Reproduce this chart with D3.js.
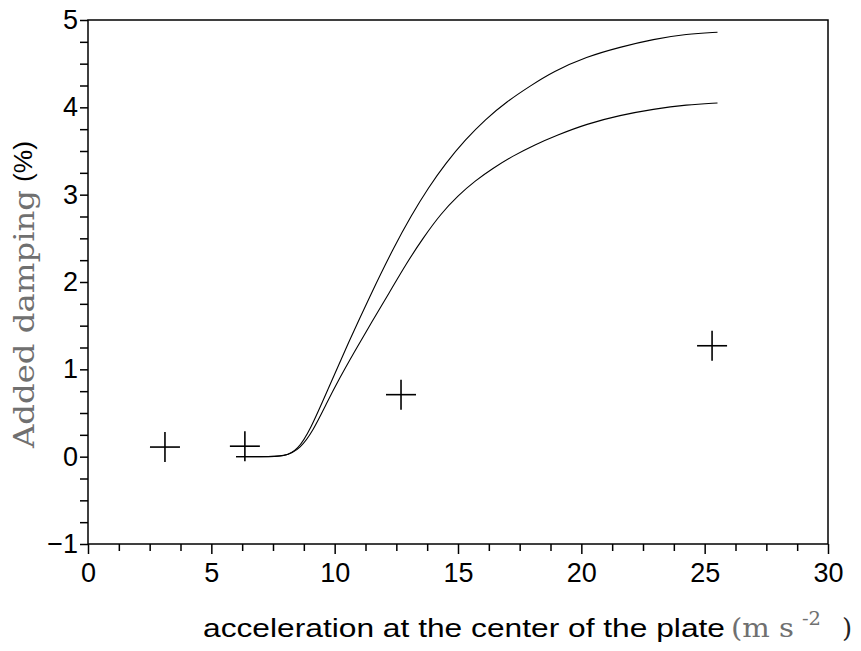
<!DOCTYPE html>
<html>
<head>
<meta charset="utf-8">
<script src="https://cdn.jsdelivr.net/npm/d3@7"></script>
<style>
  body { margin: 0; background: #fff; }
  svg { display: block; }
</style>
</head>
<body>
<svg id="chart" width="861" height="651"></svg>
<script>
// model curves (x = acceleration, y = added damping %)
const upperCurve = [
  [6, 0], [7, 0], [8, 0], [8.5, 0.08], [9.0, 0.3], [9.74, 0.78], [10.55, 1.3],
  [11.43, 1.84], [12.4, 2.4], [13.1, 2.76], [13.8, 3.08], [14.5, 3.36],
  [15.3, 3.63], [16.1, 3.86], [17.0, 4.07], [17.9, 4.24], [18.86, 4.41],
  [20.21, 4.58], [21.57, 4.69], [22.92, 4.78], [24.27, 4.84], [25.52, 4.86]
];
const lowerCurve = [
  [6, 0], [7, 0], [8, 0], [8.6, 0.09], [9.13, 0.3], [9.65, 0.6], [10.2, 0.9],
  [10.8, 1.2], [11.5, 1.54], [12.2, 1.87], [12.9, 2.21], [13.6, 2.51],
  [14.3, 2.78], [15.0, 2.99], [15.7, 3.16], [16.4, 3.3], [17.2, 3.44],
  [18.1, 3.57], [19.0, 3.68], [20.21, 3.81], [21.57, 3.91], [22.92, 3.98],
  [24.27, 4.03], [25.52, 4.05]
];
// measured points
const measX = [3.12, 6.36, 12.69, 25.3];
const measY = [0.11, 0.12, 0.71, 1.27];

const xMajor = [0, 5, 10, 15, 20, 25, 30];
const yMajor = [-1, 0, 1, 2, 3, 4, 5];

const svg = d3.select("#chart");
const plotL = 88, plotR = 828, plotT = 20, plotB = 544;

const x = d3.scaleLinear().domain([0, 30]).range([plotL, plotR]);
const y = d3.scaleLinear().domain([-1, 5]).range([plotB, plotT]);

const xMinor = d3.range(0, 30.01, 1.25).filter(v => v % 5 !== 0);
const yMinor = d3.range(-1, 5.01, 0.25).filter(v => !Number.isInteger(v));

const sans = "'Liberation Sans', Arial, sans-serif";
const serif = "'DejaVu Serif', 'Liberation Serif', serif";
const grey = "#707070";

// frame
svg.append("rect")
  .attr("x", plotL).attr("y", plotT)
  .attr("width", plotR - plotL).attr("height", plotB - plotT)
  .attr("fill", "none").attr("stroke", "#000").attr("stroke-width", 1.5);

// x axis
const gx = svg.append("g").attr("transform", `translate(0,${plotB})`);
gx.append("g").call(d3.axisBottom(x).tickValues(xMinor).tickSize(7).tickFormat(""));
gx.append("g").call(d3.axisBottom(x).tickValues(xMajor).tickSize(10).tickPadding(9).tickFormat(d3.format("d")));
gx.selectAll(".domain").remove();
gx.selectAll("line").attr("stroke", "#000").attr("stroke-width", 1.5);
gx.selectAll("text").attr("font-family", sans).attr("font-size", 27).attr("fill", "#000");

// y axis
const gy = svg.append("g").attr("transform", `translate(${plotL},0)`);
gy.append("g").call(d3.axisLeft(y).tickValues(yMinor).tickSize(8).tickFormat(""));
gy.append("g").call(d3.axisLeft(y).tickValues(yMajor).tickSize(8).tickPadding(2)
  .tickFormat(d => d < 0 ? "\u2212" + Math.abs(d) : d));
gy.selectAll(".domain").remove();
gy.selectAll("line").attr("stroke", "#000").attr("stroke-width", 1.5);
gy.selectAll("text").attr("font-family", sans).attr("font-size", 27).attr("fill", "#000");

// curves
const line = d3.line().x(d => x(d[0])).y(d => y(d[1])).curve(d3.curveBasis);
[upperCurve, lowerCurve].forEach(c => {
  svg.append("path").datum(c)
    .attr("d", line)
    .attr("fill", "none").attr("stroke", "#000").attr("stroke-width", 1.1);
});

// crosses
const half = 15;
const pts = measX.map((v, i) => [v, measY[i]]);
const cross = svg.append("g").attr("stroke", "#000").attr("stroke-width", 1.6);
cross.selectAll(".h").data(pts).join("line").attr("class", "h")
  .attr("x1", d => x(d[0]) - half).attr("x2", d => x(d[0]) + half)
  .attr("y1", d => y(d[1])).attr("y2", d => y(d[1]));
cross.selectAll(".v").data(pts).join("line").attr("class", "v")
  .attr("x1", d => x(d[0])).attr("x2", d => x(d[0]))
  .attr("y1", d => y(d[1]) - half).attr("y2", d => y(d[1]) + half);

// y label
svg.append("text")
  .attr("transform", "translate(34,448) rotate(-90)")
  .attr("font-family", serif).attr("font-size", 27).attr("fill", grey)
  .attr("textLength", 258).attr("lengthAdjust", "spacingAndGlyphs")
  .text("Added damping");
svg.append("text")
  .attr("transform", "translate(32,182) rotate(-90)")
  .attr("font-family", sans).attr("font-size", 26).attr("fill", "#000")
  .attr("textLength", 41).attr("lengthAdjust", "spacingAndGlyphs")
  .text("(%)");

// x label
svg.append("text").attr("x", 203).attr("y", 637)
  .attr("font-family", sans).attr("font-size", 25).attr("fill", "#000")
  .attr("textLength", 522).attr("lengthAdjust", "spacingAndGlyphs")
  .text("acceleration at the center of the plate");
svg.append("text").attr("x", 731).attr("y", 637)
  .attr("font-family", serif).attr("font-size", 26).attr("fill", grey)
  .attr("textLength", 63).attr("lengthAdjust", "spacingAndGlyphs")
  .text("(m s");
svg.append("text").attr("x", 802).attr("y", 625)
  .attr("font-family", serif).attr("font-size", 18).attr("fill", grey)
  .attr("textLength", 19).attr("lengthAdjust", "spacingAndGlyphs")
  .text("-2");
svg.append("text").attr("x", 842).attr("y", 637)
  .attr("font-family", serif).attr("font-size", 26).attr("fill", "#222")
  .text(")");
</script>
</body>
</html>
